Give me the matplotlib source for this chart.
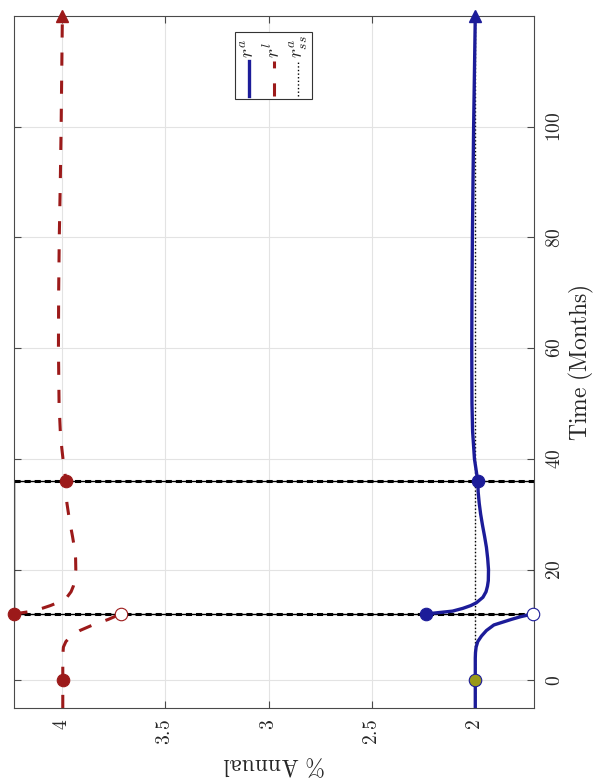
import matplotlib
matplotlib.use('Agg')
import matplotlib.pyplot as plt
from matplotlib.patches import Rectangle
from matplotlib.lines import Line2D

plt.rcParams['mathtext.fontset'] = 'cm'
plt.rcParams['font.family'] = ['DejaVu Serif']

# ---------------- data ----------------
# r^l (lending rate), before and after the shock at t=12
rl_pre_t = [-5, 0, 2, 4, 5, 6, 7, 8, 9, 10, 11, 12]
rl_pre_v = [3.995, 3.995, 3.995, 3.995, 3.994, 3.992, 3.980, 3.955, 3.912, 3.850, 3.775, 3.714]
rl_post_t = [12, 12.5, 13, 13.5, 14, 15, 16, 17, 18, 20, 22, 24, 26, 28, 30, 32, 34, 36,
             38, 40, 42, 45, 50, 60, 70, 80, 90, 100, 110, 120]
rl_post_v = [4.229, 4.140, 4.095, 4.055, 4.022, 3.975, 3.955, 3.944, 3.938, 3.932, 3.933,
             3.939, 3.948, 3.958, 3.967, 3.975, 3.979, 3.981,
             3.986, 3.994, 4.000, 4.007, 4.013, 4.016, 4.015, 4.012, 4.007, 4.003, 4.000, 3.997]

# r^a (deposit rate)
ra_pre_t = [-5, 0, 2, 4, 5, 6, 7, 8, 9, 10, 11, 11.5, 12]
ra_pre_v = [2.0, 2.0, 2.0, 2.0, 1.999, 1.996, 1.988, 1.970, 1.946, 1.910, 1.826, 1.780, 1.720]
ra_post_t = [12, 12.5, 13, 13.5, 14, 15, 16, 17, 18, 20, 22, 24, 26, 28, 30, 32, 34, 36,
             38, 40, 45, 50, 60, 70, 80, 90, 100, 110, 120]
ra_post_v = [2.236, 2.110, 2.060, 2.022, 1.995, 1.963, 1.948, 1.941, 1.937, 1.936, 1.940,
             1.946, 1.955, 1.965, 1.974, 1.981, 1.986, 1.988,
             1.996, 2.004, 2.013, 2.016, 2.017, 2.016, 2.014, 2.011, 2.008, 2.004, 2.000]

# steady state r^a
rss_t = [-5, 120]
rss_v = [2.0, 2.0]

# event dates
event_t = [12, 36]
start_t = 0

x_ticks = [4, 3.5, 3, 2.5, 2]
x_ticklabels = ['4', '3.5', '3', '2.5', '2']
y_ticks = [0, 20, 40, 60, 80, 100]
y_ticklabels = ['0', '20', '40', '60', '80', '100']

legend_labels = [r'$r^a$', r'$r^l$', r'$r^a_{ss}$']
xlabel = r'$\%\ \mathrm{Annual}$'
ylabel = r'$\mathrm{Time\ (Months)}$'

# ---------------- style ----------------
BLUE = '#1c1c99'
RED = '#9c1a1a'
OLIVE = '#999919'
AXC = '#4a4a4a'
TXT = '#262626'

W, H = 596, 783
fig = plt.figure(figsize=(W / 100, H / 100), dpi=100)
L, R, T, B = 14.4, 534.0, 16.0, 708.0
ax = fig.add_axes([L / W, (H - B) / H, (R - L) / W, (B - T) / H])

ax.set_xlim(4.229, 1.716)
ax.set_ylim(-5, 120)

# grid
ax.set_axisbelow(True)
ax.grid(True, color='#e3e3e3', lw=0.8)

# event box and dashed lines
ax.axhspan(event_t[0], event_t[1], facecolor='none', edgecolor='black', lw=1.0, zorder=2)
for et in event_t:
    ax.axhline(et, color='black', lw=2.2, ls=(0, (2.0, 1.3)), zorder=2.1)

# steady-state dotted line
ax.plot(rss_v, rss_t, color='black', lw=1.0, ls=(0, (1, 1.6)), zorder=3)

# lines
dash = (0, (4.3, 4.9))
ax.plot(rl_pre_v, rl_pre_t, color=RED, lw=2.2, ls=dash, zorder=4)
ax.plot(rl_post_v, rl_post_t, color=RED, lw=2.2, ls=dash, zorder=4)
ax.plot(ra_pre_v, ra_pre_t, color=BLUE, lw=2.4, zorder=4)
ax.plot(ra_post_v, ra_post_t, color=BLUE, lw=2.4, zorder=4)

# markers
def at(ts, vs, t):
    return vs[ts.index(t)]

ms = 9
# r^l
ax.plot([at(rl_pre_t, rl_pre_v, start_t), rl_post_v[0], at(rl_post_t, rl_post_v, event_t[1])],
        [start_t, event_t[0], event_t[1]], 'o', color=RED, ms=ms, mew=0.8, zorder=6, clip_on=False)
ax.plot([rl_pre_v[-1]], [event_t[0]], 'o', mfc='white', mec=RED, ms=ms, mew=0.8, zorder=6, clip_on=False)
ax.plot([rl_post_v[-1]], [rl_post_t[-1]], '^', color=RED, ms=9, zorder=6, clip_on=False)
# r^a
ax.plot([ra_post_v[0], at(ra_post_t, ra_post_v, event_t[1])], [event_t[0], event_t[1]], 'o',
        color=BLUE, ms=ms, mew=0.8, zorder=6, clip_on=False)
ax.plot([at(ra_pre_t, ra_pre_v, start_t)], [start_t], 'o', mfc=OLIVE, mec=BLUE, ms=ms, mew=0.8,
        zorder=6, clip_on=False)
ax.plot([ra_pre_v[-1]], [event_t[0]], 'o', mfc='white', mec=BLUE, ms=ms, mew=0.8, zorder=6, clip_on=False)
ax.plot([ra_post_v[-1]], [ra_post_t[-1]], '^', color=BLUE, ms=9, zorder=6, clip_on=False)

# ticks
ax.set_xticks(x_ticks, [f'${s}$' for s in x_ticklabels])
ax.set_yticks(y_ticks, [f'${s}$' for s in y_ticklabels])
ax.yaxis.tick_right()
ax.tick_params(direction='in', length=5, width=0.8, color=AXC, labelcolor=TXT, labelsize=14,
               top=True, bottom=True, left=True, right=True, labelleft=False, labelright=True)
ax.tick_params(axis='x', labelrotation=90, pad=8)
ax.tick_params(axis='y', labelrotation=90, pad=9)
for lab in ax.get_yticklabels():
    lab.set_va('center')
for s in ax.spines.values():
    s.set_color(AXC)
    s.set_linewidth(0.8)

# axis labels (rotated with the whole chart)
fig.text(274 / W, 1 - 765 / H, xlabel, rotation=180, ha='center', va='center',
         fontsize=17, color=TXT)
fig.text(581 / W, 1 - 363 / H, ylabel, rotation=90, ha='center', va='center',
         fontsize=17, color=TXT)

# custom rotated legend
lx0, lx1 = (235 - L) / (R - L), (312 - L) / (R - L)
ly0, ly1 = (B - 99) / (B - T), (B - 32) / (B - T)
ax.add_patch(Rectangle((lx0, ly0), lx1 - lx0, ly1 - ly0, transform=ax.transAxes,
                       facecolor='white', edgecolor='#333333', lw=0.8, zorder=10))
cols = [(249 - L) / (R - L), (273.7 - L) / (R - L), (298.3 - L) / (R - L)]
h0, h1 = (B - 96) / (B - T), (B - 60.7) / (B - T)
tb = (B - 58) / (B - T)
styles = [dict(color=BLUE, lw=2.4, ls='-'), dict(color=RED, lw=2.2, ls=dash),
          dict(color='black', lw=1.0, ls=(0, (1, 1.6)))]
for cx, st, lab in zip(cols, styles, legend_labels):
    ax.add_line(Line2D([cx, cx], [h0, h1], transform=ax.transAxes, zorder=11, **st))
    ax.text(cx, tb, lab, transform=ax.transAxes, rotation=90, ha='center', va='bottom',
            fontsize=14, color=TXT, zorder=11)

fig.savefig('out.png', dpi=100)
